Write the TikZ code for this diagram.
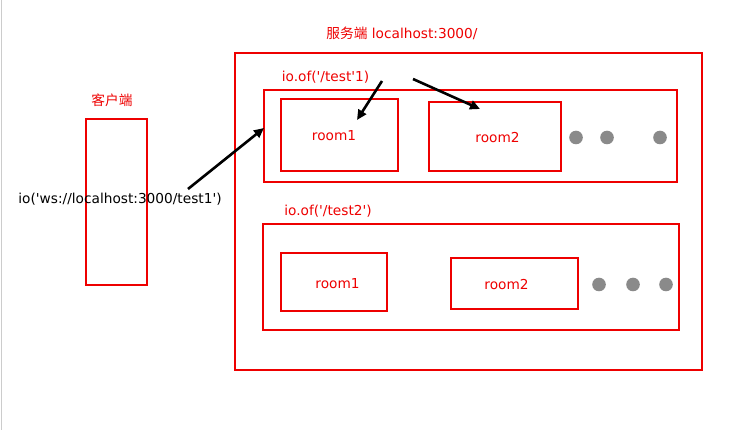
\documentclass[tikz,border=0pt]{standalone}
\usepackage{fontspec}
\newfontfamily\latinfont{DejaVu Sans}
\newfontfamily\cjk{Noto Sans CJK SC}
\usetikzlibrary{arrows.meta}

\definecolor{boxred}{RGB}{238,0,0}
\definecolor{dotgray}{RGB}{138,138,138}

\begin{document}
\begin{tikzpicture}[
    x=1pt, y=-1pt,
    every node/.style={font=\latinfont\fontsize{13.7}{16}\selectfont},
    box/.style={draw=boxred, line width=2pt, inner sep=0pt, outer sep=0pt},
    lbl/.style={text=boxred, inner sep=0pt},
    conn/.style={line width=2.6pt, -{Triangle[length=10pt, width=9pt]}}
]
    \useasboundingbox (0,0) rectangle (740,430);
    \draw[black!20, line width=1pt] (1.5,0) -- (1.5,430);

    % client side
    \node[box, minimum width=61pt, minimum height=166pt] (client) at (116.5,202) {};
    \node[lbl] (clientname) at (112,100) {\cjk 客户端};
    \node[inner sep=0pt] (url) at (120,199) {io('ws://localhost:3000/test1')};

    % server side
    \node[box, minimum width=467pt, minimum height=317pt] (server) at (468.5,211.5) {};
    \node[lbl] (servername) at (402,33) {{\cjk 服务端} localhost:3000/};

    \node[box, minimum width=413pt, minimum height=92pt] (ns1) at (470.5,136) {};
    \node[lbl] (ns1name) at (325.5,77) {io.of('/test'1)};
    \node[box, minimum width=117pt, minimum height=72pt,
        label={[lbl, xshift=-5.5pt, yshift=-1pt]center:room1}] (r11) at (339.5,135) {};
    \node[box, minimum width=132pt, minimum height=69pt,
        label={[lbl, xshift=2.5pt, yshift=-1.5pt]center:room2}] (r12) at (495,136.5) {};

    \node[box, minimum width=416pt, minimum height=106pt] (ns2) at (471,277) {};
    \node[lbl] (ns2name) at (328,211) {io.of('/test2')};
    \node[box, minimum width=106pt, minimum height=58pt,
        label={[lbl, xshift=3.5pt, yshift=-2pt]center:room1}] (r21) at (334,282) {};
    \node[box, minimum width=127pt, minimum height=51pt,
        label={[lbl, xshift=-8pt, yshift=-1.5pt]center:room2}] (r22) at (514.5,283.5) {};

    \foreach \x in {576, 607, 660} {
        \fill[dotgray] (\x,137.5) circle (6.8pt);
    }
    \foreach \x in {599, 633, 666} {
        \fill[dotgray] (\x,284.5) circle (6.8pt);
    }

    % connections
    \coordinate (c1) at (188,189);
    \coordinate (c2) at (382,81);
    \coordinate (c3) at (413,79);
    \coordinate (t2) at (357,120);
    \coordinate (t3) at (480,109);
    \draw[conn] (c1) -- ([yshift=8pt]ns1.west);
    \draw[conn] (c2) -- (t2);
    \draw[conn] (c3) -- (t3);
\end{tikzpicture}
\end{document}
